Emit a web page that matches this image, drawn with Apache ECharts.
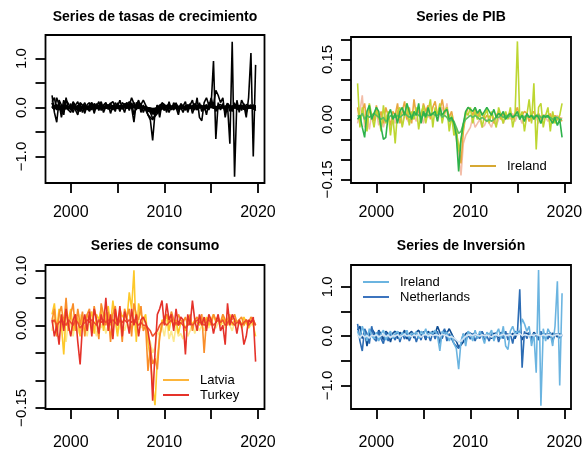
<!DOCTYPE html>
<html>
<head>
<meta charset="utf-8">
<script src="https://cdn.jsdelivr.net/npm/echarts@6/dist/echarts.min.js"></script>
<style>html,body{margin:0;padding:0;background:#fff}#c{width:586px;height:451px}</style>
</head>
<body>
<div id="c"></div>
<script>
// ---- time axis: quarterly observations 1998Q1..2019Q4 ----
const startYear = 1998;
const nQuarters = 88;
const xTicks = [2000, 2005, 2010, 2015, 2020];
const xTickLabels = [2000, 2010, 2020];

// ---- PIB growth series ----
const pib1 = [ -0.01,0.02,0.06,-0.02,0.01,-0.025,0.015,0.00,
  0.02,-0.015,0.01,-0.02,0.005,0.015,-0.02,0.01,
  -0.01,0.02,0.005,-0.015,0.02,0.00,-0.01,0.015,
  0.01,-0.005,0.02,0.01,-0.01,0.02,0.005,0.015,
  0.01,0.02,-0.005,0.015,0.03,0.01,0.04,-0.01,
  0.005,-0.02,-0.05,-0.09,-0.14,-0.06,-0.04,-0.03,
  -0.02,0.005,-0.02,-0.01,0.00,-0.02,-0.015,0.00,
  -0.01,-0.02,0.005,-0.015,0.00,0.01,-0.01,0.005,
  0.01,0.00,0.015,-0.005,0.01,0.005,-0.01,0.01,
  0.005,0.01,-0.005,0.01,0.005,-0.01,0.01,0.00,
  0.005,-0.005,0.01,0.00,0.005,0.01,-0.005,0.005 ];
const pib2 = [ 0.03,-0.01,0.02,0.04,-0.015,0.025,0.01,-0.005,
  0.035,0.00,0.02,-0.01,0.03,0.01,-0.015,0.02,
  0.01,0.04,-0.01,0.02,0.045,0.00,0.03,-0.01,
  0.05,0.01,0.025,-0.005,0.04,0.02,0.035,0.00,
  0.03,0.045,0.01,0.02,0.05,0.015,0.03,0.005,
  0.02,-0.01,-0.03,-0.07,-0.11,-0.03,0.01,0.03,
  0.025,0.01,0.03,0.005,0.02,0.015,0.00,0.01,
  0.005,0.015,-0.01,0.01,0.02,0.00,0.015,0.005,
  0.01,0.02,0.00,0.015,0.03,0.005,0.01,0.02,
  0.015,-0.005,0.01,0.02,0.005,0.015,0.00,0.01,
  0.01,0.005,0.015,-0.005,0.01,0.00,0.005,-0.005 ];
const pib3 = [ 0.09,-0.02,0.03,0.00,-0.03,0.04,0.01,-0.02,
  0.02,0.01,-0.03,0.035,-0.01,0.02,-0.04,0.01,
  -0.06,0.02,0.03,-0.02,0.01,0.04,-0.015,0.02,
  0.00,0.03,-0.025,0.015,0.035,-0.01,0.02,0.05,
  -0.02,0.03,0.01,0.04,-0.01,0.02,0.03,-0.03,
  0.01,-0.04,-0.02,-0.08,-0.05,-0.02,0.02,0.01,
  0.03,-0.01,0.02,0.00,0.015,-0.02,0.01,0.025,
  -0.01,0.02,0.00,-0.02,0.03,0.01,-0.01,0.02,
  0.00,0.03,-0.02,0.01,0.195,0.00,0.02,-0.03,
  0.01,0.05,-0.01,0.09,-0.075,0.03,0.04,-0.02,
  0.01,0.03,-0.03,0.02,-0.01,0.00,0.01,0.04 ];
const pib4 = [ 0.00,0.01,-0.02,-0.045,0.02,0.035,0.00,0.015,
  0.03,0.02,-0.02,-0.05,-0.045,0.01,0.025,0.00,
  0.015,-0.01,0.02,0.03,0.01,0.04,0.02,0.00,
  0.02,0.01,0.04,-0.01,0.02,0.005,0.03,0.01,
  0.015,0.02,-0.005,0.03,0.01,0.02,0.025,0.00,
  0.005,-0.01,-0.04,-0.13,-0.05,-0.01,0.02,0.03,
  0.025,0.02,0.03,0.015,0.025,0.01,0.02,0.03,
  0.02,0.01,0.025,0.005,0.015,0.01,0.02,0.00,
  0.01,0.015,0.005,0.01,0.02,0.00,0.01,-0.005,
  0.015,0.005,0.01,0.00,0.01,0.005,-0.01,0.01,
  0.005,0.01,0.00,-0.01,0.005,-0.015,0.00,-0.045 ];
const pib5 = [ 0.01,0.005,0.015,0.00,0.01,0.005,0.01,0.015,
  0.01,0.005,0.00,0.005,-0.005,0.00,0.01,0.005,
  0.005,0.01,0.005,0.01,0.015,0.01,0.005,0.01,
  0.01,0.015,0.01,0.005,0.01,0.015,0.01,0.01,
  0.015,0.01,0.01,0.015,0.005,0.01,0.005,-0.005,
  0.00,-0.005,-0.02,-0.035,-0.03,-0.01,0.00,0.005,
  0.01,0.005,0.01,0.005,0.00,0.005,0.00,-0.005,
  0.00,-0.005,0.00,0.005,0.005,0.01,0.005,0.01,
  0.005,0.01,0.005,0.01,0.01,0.005,0.01,0.005,
  0.01,0.005,0.01,0.005,0.01,0.01,0.005,0.005,
  0.01,0.005,0.005,0.00,0.005,0.005,0.00,0.00 ];

// ---- consumo growth series ----
const con1 = [ 0.02,0.04,-0.01,0.03,0.00,-0.053,0.02,0.01,
  0.03,-0.01,0.02,0.01,-0.02,0.015,0.005,0.02,
  0.01,0.025,-0.015,0.02,0.01,0.03,-0.01,0.02,
  0.035,0.00,0.045,0.01,-0.02,0.03,0.015,0.02,
  0.01,0.06,0.03,0.10,-0.03,0.04,0.02,0.01,
  0.02,-0.03,-0.06,-0.11,-0.145,-0.06,-0.02,0.01,
  0.005,0.02,-0.01,0.015,0.00,0.01,-0.015,0.005,
  0.01,-0.01,0.005,0.015,0.00,0.01,0.005,0.00,
  0.01,0.005,0.015,0.00,0.01,0.02,0.005,0.01,
  0.00,0.015,0.005,0.01,0.02,0.00,0.01,0.005,
  0.01,0.00,0.015,0.005,-0.005,0.01,0.00,-0.02 ];
const con2 = [ 0.01,0.03,-0.02,0.02,0.035,0.00,0.05,-0.01,
  0.02,0.04,-0.01,0.03,0.00,0.025,-0.02,0.02,
  0.03,-0.01,0.035,0.01,-0.025,0.04,0.02,0.00,
  0.025,-0.03,0.02,0.035,0.00,0.02,-0.03,0.03,
  0.015,0.03,-0.02,0.04,0.02,0.01,0.035,-0.01,
  0.00,-0.083,-0.04,-0.07,-0.06,-0.08,-0.02,0.00,
  0.015,0.02,0.005,0.025,0.01,0.00,0.02,0.01,
  0.005,0.015,0.00,0.02,-0.01,0.01,0.015,0.005,
  0.02,-0.05,0.01,0.015,0.00,0.02,0.01,0.015,
  0.005,0.02,0.01,0.00,0.015,0.01,0.02,0.005,
  0.01,0.015,0.00,0.01,0.005,0.015,0.01,0.00 ];
const con3 = [ -0.01,0.02,-0.02,0.00,0.015,-0.01,-0.03,0.01,
  0.00,-0.02,0.01,-0.015,0.02,-0.01,0.00,-0.02,
  0.01,-0.01,0.00,-0.02,0.015,-0.005,0.01,-0.015,
  0.00,0.01,-0.01,0.02,-0.015,0.00,0.01,-0.01,
  0.005,-0.01,0.02,0.00,-0.02,0.01,-0.005,0.015,
  0.00,-0.02,-0.03,-0.05,-0.04,-0.01,-0.02,0.00,
  -0.02,0.01,-0.025,-0.01,-0.03,0.00,-0.02,-0.015,
  -0.025,0.00,-0.02,-0.01,0.005,-0.015,0.00,-0.01,
  0.00,-0.01,0.005,-0.005,0.01,0.00,-0.005,0.005,
  0.00,0.005,-0.005,0.01,0.00,-0.01,0.005,0.00,
  0.005,-0.005,0.00,0.01,-0.005,0.00,0.005,0.00 ];
const con4 = [ 0.005,0.01,0.00,0.005,0.01,0.005,0.00,0.01,
  0.005,0.00,0.01,0.005,-0.005,0.00,0.005,0.01,
  0.005,0.01,0.005,0.00,0.01,0.005,0.01,0.005,
  0.01,0.005,0.01,0.005,0.00,0.01,0.005,0.01,
  0.005,0.01,0.005,0.01,0.005,0.00,0.005,0.00,
  0.00,-0.005,-0.01,-0.02,-0.015,-0.01,0.00,0.005,
  0.005,0.00,0.005,0.01,0.00,0.005,0.00,0.005,
  0.00,-0.005,0.00,0.005,0.00,0.005,0.01,0.005,
  0.005,0.00,0.005,0.01,0.005,0.00,0.005,0.01,
  0.005,0.01,0.00,0.005,0.01,0.005,0.00,0.005,
  0.005,0.00,0.005,0.01,0.00,0.005,0.01,0.00 ];
const con5 = [ 0.01,-0.02,0.00,-0.035,0.02,-0.01,0.03,0.00,
  -0.02,0.01,0.02,-0.03,-0.071,0.00,0.02,-0.01,
  0.025,-0.02,0.03,0.01,-0.015,0.02,0.00,0.05,
  -0.01,0.02,-0.025,0.03,0.00,0.035,-0.02,0.025,
  0.01,-0.015,0.03,0.00,0.02,-0.02,0.01,0.015,
  0.005,-0.01,-0.04,-0.137,-0.05,0.02,0.03,0.045,
  0.00,0.04,0.01,0.02,-0.01,0.03,0.00,0.015,
  0.01,-0.053,0.02,0.00,0.045,0.01,-0.01,0.02,
  0.00,0.015,-0.01,0.02,0.01,-0.015,0.005,0.02,
  -0.01,0.00,-0.035,0.04,0.00,0.02,0.01,-0.015,
  0.01,0.00,-0.035,-0.02,0.01,0.005,0.015,-0.066 ];

// ---- inversion growth series ----
const inv1 = [ 0.12,0.20,-0.05,0.10,-0.20,0.05,0.15,0.08,
  -0.05,0.12,0.04,-0.08,0.10,0.05,-0.12,0.06,
  0.10,-0.05,0.08,0.02,0.12,-0.06,0.05,0.10,
  -0.04,0.08,0.12,0.00,0.06,-0.08,0.10,0.05,
  0.10,0.04,0.20,0.08,-0.05,0.12,0.06,0.15,
  0.05,-0.05,-0.10,-0.22,-0.18,-0.12,0.05,0.08,
  0.06,0.02,0.08,-0.04,0.05,0.08,0.00,0.04,
  0.02,-0.05,0.06,0.03,-0.04,0.08,0.02,0.05,
  0.04,0.00,0.06,-0.05,0.08,0.10,-0.08,0.05,
  0.06,0.02,-0.04,0.08,0.03,-0.05,0.06,0.04,
  0.02,0.05,-0.03,0.06,0.04,-0.02,0.05,0.03 ];
const invNetherlands = [ 0.25,-0.10,-0.30,0.15,0.05,-0.15,0.20,-0.05,
  -0.10,0.10,-0.05,-0.15,0.08,-0.10,0.05,0.00,
  -0.08,0.10,-0.12,0.05,-0.06,0.08,-0.10,0.02,
  0.06,-0.12,0.04,-0.08,0.10,-0.05,0.03,-0.10,
  0.08,-0.06,0.10,-0.15,0.05,0.15,-0.10,0.05,
  -0.05,-0.15,-0.20,-0.25,-0.15,0.05,-0.10,0.02,
  -0.06,0.05,-0.10,0.03,-0.05,0.10,-0.08,0.00,
  -0.10,0.05,-0.06,0.08,-0.12,0.02,-0.05,0.10,
  -0.08,0.05,-0.15,0.10,0.05,0.95,-0.64,0.10,
  -0.05,0.08,-0.10,0.05,0.00,-0.08,0.10,-0.05,
  0.05,-0.06,0.08,-0.10,0.03,0.05,-0.04,0.02 ];
const invIreland = [ 0.10,-0.05,0.20,0.05,-0.10,0.15,0.00,-0.05,
  0.08,-0.10,0.05,0.12,-0.08,0.02,0.10,-0.05,
  0.05,0.10,-0.06,0.08,0.00,0.12,-0.04,0.06,
  0.03,0.09,-0.05,0.10,0.02,0.15,-0.03,0.08,
  0.05,0.12,0.00,-0.30,0.10,0.05,0.08,-0.10,
  0.02,-0.15,-0.25,-0.67,-0.10,0.05,-0.20,0.10,
  0.05,-0.10,0.12,-0.05,0.10,0.00,-0.15,0.08,
  0.03,0.12,-0.10,0.05,0.15,-0.05,0.20,-0.20,
  -0.27,0.10,0.20,0.05,0.10,0.05,0.35,0.25,
  0.10,0.20,-0.20,0.05,-0.74,1.34,-1.41,0.15,
  -0.10,0.15,0.05,-0.20,0.20,1.11,-1.00,0.87 ];
const inv4 = [ 0.02,-0.03,0.03,-0.02,0.01,-0.04,0.02,0.00,
  0.03,-0.02,0.01,0.04,-0.01,0.02,-0.03,0.01,
  0.00,0.03,-0.02,0.01,0.04,0.00,0.02,-0.01,
  0.02,0.01,0.03,-0.02,0.02,0.04,0.00,0.03,
  0.01,0.03,0.02,0.00,0.04,0.02,0.01,-0.02,
  -0.01,-0.04,-0.08,-0.12,-0.10,-0.05,0.00,0.02,
  0.03,0.01,0.04,0.02,0.00,0.03,0.01,0.02,
  0.01,-0.02,0.02,0.03,0.00,0.02,0.04,0.01,
  0.02,0.03,0.00,0.04,0.02,0.05,0.01,0.03,
  0.02,0.00,0.03,0.01,0.04,0.02,0.00,0.03,
  0.01,0.03,0.02,0.00,0.02,0.04,0.01,0.02 ];

// ---- panels ----
const titles = ['Series de tasas de crecimiento', 'Series de PIB', 'Series de consumo', 'Series de Inversión'];
const yTicks = [
  [-1, -0.5, 0, 0.5, 1],
  [-0.15, -0.10, -0.05, 0, 0.05, 0.10, 0.15, 0.20],
  [-0.15, -0.10, -0.05, 0, 0.05, 0.10],
  [-1, -0.5, 0, 0.5, 1]
];
const yTickLabels = [[-1, 0, 1], [-0.15, 0, 0.15], [-0.15, 0, 0.10], [-1, 0, 1]];
const yDecimals = [1, 2, 2, 1];
const yRanges = [[-1.54, 1.48], [-0.159, 0.206], [-0.152, 0.1096], [-1.475, 1.44]];

const pibSeries = [
  {name: 'pib1', data: pib1, color: '#F3BDA8'},
  {name: 'pib2', data: pib2, color: '#E9A640'},
  {name: 'pib3', data: pib3, color: '#BDD631'},
  {name: 'pib5', data: pib5, color: '#5CBF5E'},
  {name: 'pib4', data: pib4, color: '#2DB24A'}
];
const conSeries = [
  {name: 'con3', data: con3, color: '#FCE98E'},
  {name: 'con1', data: con1, color: '#FDC82A'},
  {name: 'con2', data: con2, color: '#F98E2A'},
  {name: 'con4', data: con4, color: '#F0502A'},
  {name: 'con5', data: con5, color: '#E5322A'}
];
const invSeries = [
  {name: 'inv1', data: inv1, color: '#0E4C92'},
  {name: 'Netherlands', data: invNetherlands, color: '#2C6CB4'},
  {name: 'Ireland', data: invIreland, color: '#6BB4E0'},
  {name: 'inv4', data: inv4, color: '#D3E4F3'}
];

const grids = [
  {left: 45.5, top: 35, width: 219, height: 148},
  {left: 351, top: 37, width: 220, height: 146},
  {left: 45.5, top: 265, width: 219, height: 146},
  {left: 351, top: 265, width: 220, height: 146}
];
const xLabelMargins = [22, 22, 26, 26];

const FONT = '"Liberation Sans", Arial, Helvetica, sans-serif';
const quarters = [];
for (let i = 0; i < nQuarters; i++) quarters.push(startYear + i / 4);
const toPairs = arr => arr.map((v, i) => [quarters[i], v]);
const fmt = (v, d) => { const s = Math.abs(v).toFixed(d); return (v < -1e-9 ? '\u2212' : '') + s; };

const option = {
  animation: false,
  backgroundColor: '#fff',
  title: grids.map((g, i) => ({
    text: titles[i], left: g.left + g.width / 2, top: i < 2 ? 10 : 239, textAlign: 'center', padding: 0,
    textStyle: {fontSize: 14, fontWeight: 'bold', color: '#000', fontFamily: FONT}
  })),
  grid: grids.map(g => Object.assign({show: true, borderColor: '#000', borderWidth: 1.8, backgroundColor: 'transparent'}, g)),
  xAxis: grids.map((g, i) => ({
    type: 'value', gridIndex: i, min: 1997.3, max: 2020.7, position: 'bottom',
    axisLine: {show: false, onZero: false}, splitLine: {show: false},
    axisTick: {show: true, inside: false, length: 10, customValues: xTicks, lineStyle: {color: '#000', width: 1.8}},
    axisLabel: {show: true, customValues: xTickLabels, margin: xLabelMargins[i], fontSize: 16, color: '#000', fontFamily: FONT, formatter: v => String(Math.round(v))}
  })),
  yAxis: grids.map((g, i) => ({
    type: 'value', gridIndex: i, min: yRanges[i][0], max: yRanges[i][1], position: 'left',
    axisLine: {show: false, onZero: false}, splitLine: {show: false},
    axisTick: {show: true, inside: false, length: 10, customValues: yTicks[i], lineStyle: {color: '#000', width: 1.8}},
    axisLabel: {show: true, customValues: yTickLabels[i], rotate: 90, margin: 16, fontSize: 15, color: '#000', fontFamily: FONT, formatter: v => fmt(v, yDecimals[i])}
  })),
  series: []
};

const mk = (s, idx, color) => ({
  type: 'line', name: s.name, xAxisIndex: idx, yAxisIndex: idx, data: toPairs(s.data),
  symbol: 'none', showSymbol: false, silent: true, clip: true,
  lineStyle: {color: color || s.color, width: 1.6}
});
[...pibSeries, ...conSeries, ...invSeries].forEach(s => option.series.push(mk(s, 0, '#000')));
pibSeries.forEach(s => option.series.push(mk(s, 1)));
conSeries.forEach(s => option.series.push(mk(s, 2)));
invSeries.forEach(s => option.series.push(mk(s, 3)));

// legends (R-style, no box)
const legendItems = [
  {x: 470, y: 166, label: 'Ireland', color: '#D6A832'},
  {x: 163, y: 380, label: 'Latvia', color: '#FDB53A'},
  {x: 163, y: 395, label: 'Turkey', color: '#E5322A'},
  {x: 363, y: 282, label: 'Ireland', color: '#6BB4E0'},
  {x: 363, y: 297, label: 'Netherlands', color: '#3C74BE'}
];
option.graphic = [];
legendItems.forEach(it => {
  option.graphic.push({type: 'line', silent: true, shape: {x1: it.x, y1: it.y, x2: it.x + 26, y2: it.y}, style: {stroke: it.color, lineWidth: 2}});
  option.graphic.push({type: 'text', silent: true, style: {text: it.label, x: it.x + 37, y: it.y, fill: '#000', font: '13px ' + FONT, textVerticalAlign: 'middle', verticalAlign: 'middle'}});
});

const chart = echarts.init(document.getElementById('c'), null, {renderer: 'canvas'});
chart.setOption(option);
</script>
</body>
</html>
